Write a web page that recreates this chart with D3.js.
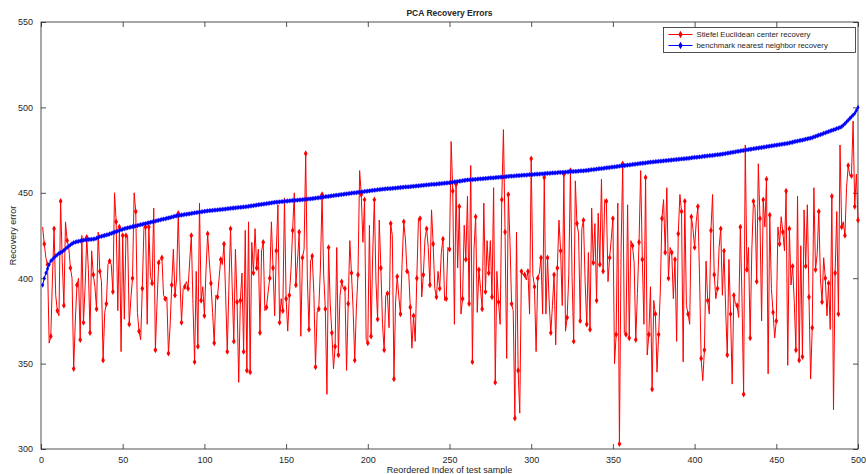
<!DOCTYPE html>
<html>
<head>
<meta charset="utf-8">
<script src="https://cdn.jsdelivr.net/npm/d3@7/dist/d3.min.js"></script>
<style>
body { margin: 0; background: #fff; }
text { font-family: "Liberation Sans", Arial, sans-serif; fill: #262626; }
</style>
</head>
<body>
<svg id="chart"></svg>
<script>
// red series, sample 1..500
var stiefel = [
  430,420,412,408,362,366,400,429,390,381,378,445,410,384,433,422,418,406,400,347,
  375,396,400,364,425,374,395,424,405,368,416,402,395,382,427,404,398,352,380,385,408,
  410,408,392,450,433,381,430,357,425,376,425,425,373,388,400,450,439,380,369,364,
  394,430,430,373,430,401,397,441,358,385,409,411,412,390,388,389,356,372,396,417,390,400,
  438,400,374,394,395,398,394,410,425,385,351,404,360,444,387,395,378,405,426,410,
  397,380,362,390,389,400,411,408,420,390,357,395,429,395,363,417,386,339,387,403,357,428,
  346,433,345,421,403,429,406,417,368,416,421,381,383,392,400,433,406,378,416,443,
  374,388,381,447,388,369,390,405,428,450,396,410,427,366,412,417,473,400,370,410,413,
  391,348,380,382,406,449,402,382,332,418,385,368,347,360,418,355,390,398,394,394,
  346,385,422,403,382,352,382,402,463,449,421,446,364,362,431,366,414,446,398,376,434,406,
  373,358,390,391,371,432,425,341,386,401,389,379,409,433,423,404,404,383,359,378,
  363,400,435,435,389,402,423,429,418,396,440,420,394,389,404,394,415,423,387,388,418,
  417,480,451,373,455,406,442,379,388,431,411,448,385,466,351,417,436,380,405,394,
  382,444,392,422,403,422,389,453,339,404,386,373,446,487,427,353,449,422,385,381,318,427,
  346,321,404,402,402,399,404,379,470,402,395,357,400,403,412,379,459,379,412,386,
  368,384,402,361,406,434,416,384,461,369,377,402,463,401,363,457,432,426,375,429,434,
  398,373,415,370,441,409,432,387,438,408,458,404,446,445,398,412,423,435,350,367,
  444,303,416,467,368,367,443,365,422,419,409,364,391,421,463,411,373,459,355,367,395,335,
  387,379,345,367,392,435,446,415,453,400,418,415,388,411,363,426,449,439,351,445,
  384,379,373,436,429,418,433,442,402,353,340,358,410,387,379,428,449,402,388,394,418,
  429,390,416,382,355,411,379,338,390,385,384,377,430,388,332,478,405,418,365,416,
  445,441,398,467,435,375,446,430,458,344,437,394,380,365,375,430,420,436,427,416,451,349,
  429,396,407,386,358,448,352,419,354,440,407,443,389,341,371,453,405,414,439,400,
  386,412,400,378,397,370,448,323,403,439,379,478,430,433,425,453,466,460,460,492,
  442,461,434
];

// blue series, sorted benchmark errors
var benchmark = [
  396,400,403,405.5,408,410,411,412,413,413.8,414.5,
  415,415.5,416.3,417.2,418,418.8,419.5,420.2,420.8,
  421.1,421.4,421.6,421.8,422.0,422.3,
  422.4,422.5,422.6,422.7,422.8,422.9,423.0,
  423.4,423.8,424.3,
  424.5,424.8,425.0,425.3,425.5,
  425.9,426.2,426.6,426.9,427.3,427.6,428.0,428.3,428.6,429.0,
  429.2,429.5,429.7,429.9,430.2,430.4,430.6,430.8,431.1,431.3,431.5,431.8,432.0,
  432.2,432.5,432.7,433.0,433.2,433.4,433.7,433.9,434.1,434.4,434.6,434.8,435.1,435.3,435.5,435.8,436.0,436.3,436.5,
  436.7,436.8,437.0,437.1,437.3,437.4,437.6,437.7,437.9,438.1,438.2,438.4,438.5,438.7,438.8,439.0,439.1,439.3,
  439.4,439.5,439.6,439.7,439.8,439.9,440.0,440.1,440.2,440.3,440.4,440.5,440.7,440.8,440.9,441.0,441.1,441.2,441.3,441.4,441.5,441.6,441.7,441.8,
  441.9,442.1,442.2,442.4,442.5,442.7,442.8,443.0,443.1,443.2,443.4,443.5,443.7,443.8,444.0,444.1,444.3,444.4,
  444.5,444.6,444.7,444.8,444.9,445.0,445.1,445.2,445.3,445.4,445.5,445.5,445.6,445.7,445.8,445.9,446.0,446.1,446.2,446.3,446.4,446.5,446.6,
  446.7,446.9,447.0,447.1,447.3,447.4,447.5,447.7,447.8,447.9,448.1,448.2,448.3,448.5,448.6,448.7,448.9,449.0,
  449.1,449.3,449.4,449.5,449.6,449.8,449.9,450.0,450.1,450.3,450.4,450.5,450.6,450.8,450.9,451.0,451.1,451.3,451.4,451.5,451.6,451.8,451.9,452.0,
  452.1,452.2,452.3,452.4,452.5,452.5,452.6,452.7,452.8,452.9,453.0,453.1,453.2,453.3,453.4,453.4,453.5,453.6,453.7,453.8,
  453.9,454.0,454.1,454.2,454.3,454.4,454.5,454.6,454.7,454.8,454.9,455.0,455.0,455.1,455.2,455.3,455.4,455.5,455.6,455.7,455.8,
  455.9,456.1,456.2,456.4,456.5,456.6,456.8,456.9,457.1,457.2,457.4,457.5,
  457.6,457.7,457.7,457.8,457.9,458.0,458.1,458.2,458.2,458.3,458.4,458.5,458.6,458.7,458.7,
  458.8,458.9,459.0,459.1,459.2,459.2,459.3,459.4,459.5,459.6,459.7,459.7,459.8,459.9,460.0,
  460.1,460.1,460.2,460.3,460.4,460.4,460.5,460.6,460.6,460.7,460.8,460.9,460.9,461.0,461.1,461.1,461.2,461.3,461.4,461.4,
  461.5,461.6,461.6,461.7,461.8,461.9,461.9,462.0,462.1,462.1,462.2,462.3,462.4,462.4,462.5,462.6,462.6,462.7,462.8,462.9,
  462.9,463.0,
  463.1,463.2,463.4,463.5,463.6,463.7,463.9,464.0,464.1,464.2,464.3,464.5,464.6,464.7,464.8,465.0,465.1,465.2,465.3,465.5,
  465.6,465.7,465.8,465.9,466.1,466.2,466.3,466.4,466.6,466.7,466.8,466.9,467.1,467.2,467.3,467.4,467.5,467.7,467.8,467.9,
  468.0,
  468.1,468.2,468.3,468.4,468.5,468.6,468.7,468.8,468.9,469.0,469.1,469.2,469.3,469.4,469.5,469.6,469.7,469.8,469.9,470.0,
  470.1,470.2,470.3,470.5,470.6,470.7,470.8,470.9,471.0,471.1,471.3,471.4,471.5,471.6,471.7,471.8,471.9,472.0,472.2,472.3,472.4,472.5,
  472.7,472.8,473.0,473.2,473.3,473.5,473.7,473.8,474.0,474.2,474.3,474.5,474.7,474.8,475.0,
  475.2,475.3,475.5,475.6,475.8,475.9,476.1,476.2,476.4,476.5,476.7,476.8,477.0,477.2,477.3,477.5,477.6,477.8,477.9,478.1,
  478.2,478.4,478.5,478.7,478.8,479.0,
  479.2,479.4,479.6,479.9,480.1,480.3,480.5,480.7,480.9,481.1,481.4,481.6,481.8,482.0,
  482.3,482.7,483.0,483.4,483.7,484.1,484.4,484.8,485.1,485.5,
  485.8,486.2,486.5,486.9,487.2,487.6,487.9,488.3,488.7,
  489.6,490.5,491.5,492.5,493.5,494.5,495.5,496.5,498.2,500
];

var seriesNames = ["Stiefel Euclidean center recovery", "benchmark nearest neighbor recovery"];
var seriesColors = ["#ff0000", "#0000ff"];
var xTicks = [0, 50, 100, 150, 200, 250, 300, 350, 400, 450, 500];
var yTicks = [300, 350, 400, 450, 500, 550];

var width = 866, height = 474;
var svg = d3.select("#chart").attr("width", width).attr("height", height);

var x = d3.scaleLinear().domain([0, 500]).range([41, 858]);
var y = d3.scaleLinear().domain([300, 550]).range([449, 22]);

var g = svg.append("g");

// axes, ticks pointing in, on all four sides
var axB = g.append("g").attr("transform", "translate(0," + y(300) + ")")
  .call(d3.axisBottom(x).tickValues(xTicks).tickSize(-5).tickPadding(8));
var axT = g.append("g").attr("transform", "translate(0," + y(550) + ")")
  .call(d3.axisTop(x).tickValues(xTicks).tickSize(-5).tickFormat(""));
var axL = g.append("g").attr("transform", "translate(" + x(0) + ",0)")
  .call(d3.axisLeft(y).tickValues(yTicks).tickSize(-5).tickPadding(8));
var axR = g.append("g").attr("transform", "translate(" + x(500) + ",0)")
  .call(d3.axisRight(y).tickValues(yTicks).tickSize(-5).tickFormat(""));

[axB, axT, axL, axR].forEach(function(a){
  a.select(".domain").remove();
  a.selectAll("line").attr("stroke", "#262626").attr("stroke-width", 0.8);
  a.selectAll("text").attr("font-size", "9px").attr("fill", "#262626")
    .style("font-family", "'Liberation Sans', Arial, sans-serif");
});

g.append("rect")
  .attr("x", x(0)).attr("y", y(550))
  .attr("width", x(500) - x(0)).attr("height", y(300) - y(550))
  .attr("fill", "none").attr("stroke", "#262626").attr("stroke-width", 0.8);

var line = d3.line()
  .x(function(d, i){ return x(i + 1); })
  .y(function(d){ return y(d); });

var diamond = d3.symbol().type(d3.symbolDiamond).size(12);
var smallDiamond = d3.symbol().type(d3.symbolDiamond).size(8);

// red series
g.append("path").datum(stiefel)
  .attr("d", line).attr("fill", "none")
  .attr("stroke", seriesColors[0]).attr("stroke-width", 1);
g.selectAll(".mr").data(stiefel.map(function(v, i){ return {i: i, v: v}; })
    .filter(function(d){ return d.i % 2 === 1; }))
  .enter().append("path")
  .attr("class", "mr")
  .attr("transform", function(d){ return "translate(" + x(d.i + 1) + "," + y(d.v) + ")"; })
  .attr("d", diamond).attr("fill", seriesColors[0]);

// blue series
g.append("path").datum(benchmark)
  .attr("d", line).attr("fill", "none")
  .attr("stroke", seriesColors[1]).attr("stroke-width", 1);
g.selectAll(".mb").data(benchmark)
  .enter().append("path")
  .attr("class", "mb")
  .attr("transform", function(d, i){ return "translate(" + x(i + 1) + "," + y(d) + ")"; })
  .attr("d", smallDiamond).attr("fill", seriesColors[1]);

// title + labels
svg.append("text").attr("x", (x(0) + x(500)) / 2).attr("y", 16)
  .attr("text-anchor", "middle").attr("font-size", "8.5px").attr("font-weight", "bold")
  .text("PCA Recovery Errors");
svg.append("text").attr("x", (x(0) + x(500)) / 2).attr("y", 473)
  .attr("text-anchor", "middle").attr("font-size", "9px")
  .text("Reordered Index of test sample");
svg.append("text")
  .attr("transform", "translate(16," + ((y(300) + y(550)) / 2) + ") rotate(-90)")
  .attr("text-anchor", "middle").attr("font-size", "9px")
  .text("Recovery error");

// legend
var lg = svg.append("g").attr("transform", "translate(663.5,27.5)");
lg.append("rect").attr("width", 192).attr("height", 25)
  .attr("fill", "#fff").attr("stroke", "#262626").attr("stroke-width", 0.8);
seriesNames.forEach(function(name, k){
  var yy = 7 + k * 11;
  lg.append("line").attr("x1", 5).attr("x2", 29).attr("y1", yy).attr("y2", yy)
    .attr("stroke", seriesColors[k]).attr("stroke-width", 1);
  lg.append("path").attr("transform", "translate(17," + yy + ")")
    .attr("d", d3.symbol().type(d3.symbolDiamond).size(16)).attr("fill", seriesColors[k]);
  lg.append("text").attr("x", 33).attr("y", yy + 2.8)
    .attr("font-size", "7.8px").text(name);
});
</script>
</body>
</html>
